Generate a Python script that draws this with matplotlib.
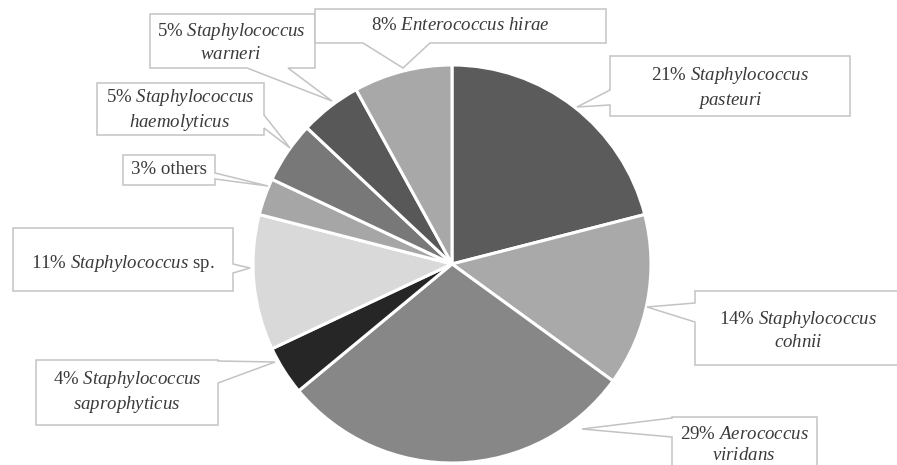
import matplotlib.pyplot as plt
from matplotlib.patches import Polygon

plt.rcParams['mathtext.fontset'] = 'custom'
plt.rcParams['mathtext.rm'] = 'Liberation Serif'
plt.rcParams['mathtext.it'] = 'Liberation Serif:italic'
plt.rcParams['font.family'] = 'Liberation Serif'

W, H = 897, 465

# share of isolates, clockwise from 12 o'clock
species = ['Staphylococcus pasteuri', 'Staphylococcus cohnii', 'Aerococcus viridans',
           'Staphylococcus saprophyticus', 'Staphylococcus sp.', 'others',
           'Staphylococcus haemolyticus', 'Staphylococcus warneri', 'Enterococcus hirae']
percent = [21, 14, 29, 4, 11, 3, 5, 5, 8]
slice_colors = ['#5b5b5b', '#a9a9a9', '#878787', '#262626', '#d9d9d9',
                '#a6a6a6', '#787878', '#585858', '#a8a8a8']

# label text after the percentage, one entry per line
label_lines = [
    [r'$\mathit{Staphylococcus}$', r'$\mathit{pasteuri}$'],
    [r'$\mathit{Staphylococcus}$', r'$\mathit{cohnii}$'],
    [r'$\mathit{Aerococcus}$', r'$\mathit{viridans}$'],
    [r'$\mathit{Staphylococcus}$', r'$\mathit{saprophyticus}$'],
    [r'$\mathit{Staphylococcus}$ sp.'],
    ['others'],
    [r'$\mathit{Staphylococcus}$', r'$\mathit{haemolyticus}$'],
    [r'$\mathit{Staphylococcus}$', r'$\mathit{warneri}$'],
    [r'$\mathit{Enterococcus}$ $\mathit{hirae}$'],
]

# callout layout in pixels (y down): box, text centre, pointer side, pointer base, tip
callouts = [
    ((610, 56, 850, 116), (730, 88), 'left', (90, 105), (577, 107)),
    ((695, 291, 905, 365), (798, 330), 'left', (303, 322), (647, 307)),
    ((672, 417, 817, 475), (744, 445), 'left', (418, 437), (582, 429)),
    ((36, 360, 218, 425), (127, 392), 'right', (361, 383), (275, 362)),
    ((13, 228, 233, 291), (123, 263), 'right', (264, 273), (250, 268)),
    ((123, 155, 215, 185), (169, 170), 'right', (173, 179), (268, 186)),
    ((97, 83, 264, 135), (180, 110), 'right', (115, 128), (290, 148)),
    ((150, 14, 315, 68), (231, 42), 'bottom', (247, 288), (332, 101)),
    ((315, 9, 606, 43), (460, 26), 'bottom', (363, 430), (403, 68)),
]


def fy(y):
    return H - y


def callout_shape(box, side, base, tip):
    x0, y0, x1, y1 = box
    pts = [(x0, y0), (x1, y0)]
    if side == 'right':
        pts += [(x1, base[0]), tip, (x1, base[1])]
    pts.append((x1, y1))
    if side == 'bottom':
        pts += [(base[1], y1), tip, (base[0], y1)]
    pts.append((x0, y1))
    if side == 'left':
        pts += [(x0, base[1]), tip, (x0, base[0])]
    return [(x, fy(y)) for x, y in pts]


fig = plt.figure(figsize=(W / 100, H / 100), dpi=100)
ax = fig.add_axes([0, 0, 1, 1])

ax.pie(percent, colors=slice_colors, startangle=90, counterclock=False,
       center=(452, fy(264)), radius=199,
       wedgeprops=dict(edgecolor='white', linewidth=2.2))

for pct, lines, (box, tc, side, base, tip) in zip(percent, label_lines, callouts):
    ax.add_patch(Polygon(callout_shape(box, side, base, tip), closed=True,
                         facecolor='white', edgecolor='#c3c3c3', lw=1.1, zorder=3))
    text = '\n'.join([f'{pct}% ' + lines[0]] + lines[1:])
    ax.text(tc[0], fy(tc[1]), text, ha='center', va='center', ma='center',
            fontsize=13.6, color='#3a3a3a', linespacing=1.25, zorder=4)

ax.set_xlim(0, W)
ax.set_ylim(0, H)
ax.set_aspect('equal')
ax.axis('off')

fig.savefig('out.png', dpi=100, facecolor='white')
